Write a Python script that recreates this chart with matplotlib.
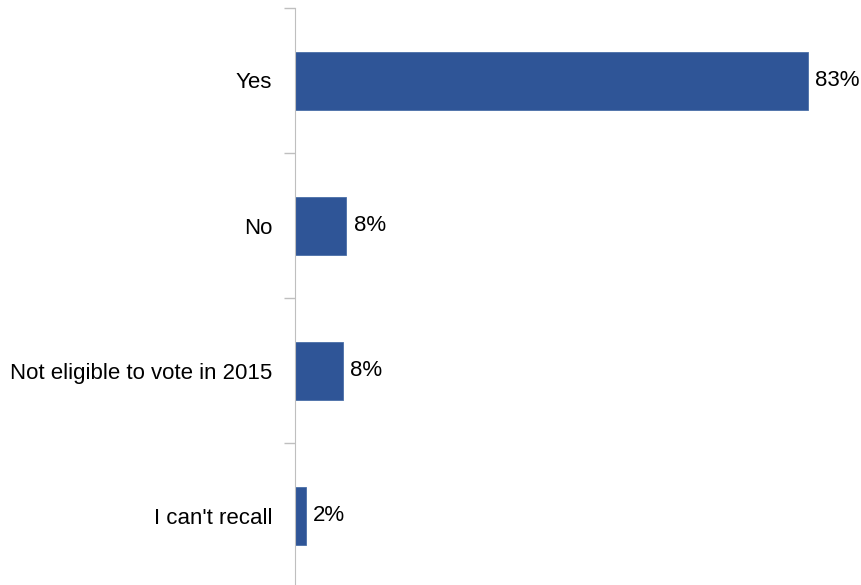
import matplotlib.pyplot as plt

categories = ["Yes", "No", "Not eligible to vote in 2015", "I can't recall"]
values = [83.0, 8.3, 7.7, 1.7]

plt.rcParams["font.family"] = ["Liberation Sans", "DejaVu Sans"]

fig = plt.figure(figsize=(8.61, 5.85), dpi=100)
ax = fig.add_axes([295 / 861, -3 / 585, 556 / 861, 580 / 585])

y = list(range(len(categories)))
ax.barh(y, values, height=0.4, color="#2F5597", edgecolor="#4A6FA8", linewidth=0.6)
for yi, v in zip(y, values):
    ax.text(v + 1.2, yi, f"{round(v)}%", va="center", ha="left", fontsize=16)

ax.set_xlim(0, 90)
ax.set_ylim(len(categories) - 0.5, -0.5)
ax.set_yticks([i - 0.5 for i in range(len(categories) + 1)])
ax.set_yticklabels([])
ax.set_yticks(y, minor=True)
ax.set_yticklabels(categories, minor=True, fontsize=16)
ax.tick_params(axis="y", which="major", length=8, color="#BFBFBF", width=1)
ax.tick_params(axis="y", which="minor", length=0, pad=16.5)
ax.set_xticks([])
for s in ["top", "right", "bottom"]:
    ax.spines[s].set_visible(False)
ax.spines["left"].set_color("#BFBFBF")

fig.savefig("out.png", dpi=100)
